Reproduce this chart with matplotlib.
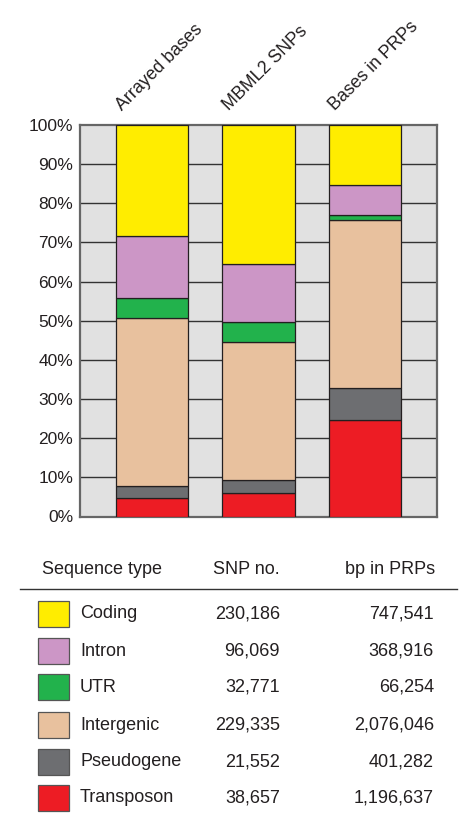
import matplotlib.pyplot as plt
from matplotlib import transforms

plt.rcParams['font.family'] = ['Liberation Sans', 'DejaVu Sans']

# sequence categories, bottom of the stack first
categories = ["Transposon", "Pseudogene", "Intergenic", "UTR", "Intron", "Coding"]
colors = ["#ed1c24", "#6d6e71", "#e8c19e", "#22b24c", "#cc96c6", "#ffed00"]

bar_labels = ["Arrayed bases", "MBML2 SNPs", "Bases in PRPs"]

# percent of arrayed bases per category (same order as categories)
arrayed_pct = [4.8, 3.0, 42.8, 5.3, 15.8, 28.3]
# counts shown in the table
snp_counts = [38657, 21552, 229335, 32771, 96069, 230186]
prp_bp = [1196637, 401282, 2076046, 66254, 368916, 747541]


def to_pct(vals):
    total = sum(vals)
    return [100.0 * v / total for v in vals]


shares = [to_pct(arrayed_pct), to_pct(snp_counts), to_pct(prp_bp)]

fig = plt.figure(figsize=(4.65, 8.15), dpi=100)
ax = fig.add_axes([80 / 465, 1 - 516.5 / 815, 357 / 465, 391.5 / 815])

ax.set_facecolor("#e1e1e1")
for y in range(10, 100, 10):
    ax.axhline(y, color="#333333", lw=1.0, zorder=1)

width = 0.68
for i, s in enumerate(shares):
    bottom = 0
    for val, col in zip(s, colors):
        ax.bar(i, val, width, bottom=bottom, color=col, edgecolor="#231f20",
               lw=0.9, zorder=3)
        bottom += val

ax.set_xlim(-0.673, 2.673)
ax.set_ylim(0, 100)
ax.set_xticks([])
ax.set_yticks(range(0, 101, 10))
ax.set_yticklabels([f"{v}%" for v in range(0, 101, 10)], fontsize=12.5,
                   color="#231f20")
ax.tick_params(axis="y", length=0, pad=5)
for sp in ax.spines.values():
    sp.set_color("#666666")
    sp.set_linewidth(1.6)

# rotated bar names above the plot
trans = transforms.blended_transform_factory(ax.transData, ax.transAxes)
for i, name in enumerate(bar_labels):
    ax.text(i - width / 2 + 0.06, 1.035, name, transform=trans, rotation=45,
            rotation_mode="anchor", ha="left", va="baseline", fontsize=12.8,
            color="#231f20")

# table of counts below the chart
fs = 13
tc = "#231f20"
fig.text(42 / 465, 1 - 569 / 815, "Sequence type", ha="left", va="center",
         fontsize=fs, color=tc)
fig.text(280 / 465, 1 - 569 / 815, "SNP no.", ha="right", va="center",
         fontsize=fs, color=tc)
fig.text(435 / 465, 1 - 569 / 815, "bp in PRPs", ha="right", va="center",
         fontsize=fs, color=tc)
fig.add_artist(plt.Line2D([20 / 465, 457 / 465], [1 - 589 / 815] * 2,
                          color="#333333", lw=1.0))

row_y = [798, 762, 725, 687, 651, 614]
for name, col, snp, bp, y in zip(categories, colors, snp_counts, prp_bp, row_y):
    yf = 1 - y / 815
    fig.add_artist(plt.Rectangle((38 / 465, yf - 13 / 815), 31 / 465, 26 / 815,
                                 facecolor=col, edgecolor="#555555", lw=0.9))
    fig.text(80 / 465, yf, name, ha="left", va="center", fontsize=fs, color=tc)
    fig.text(280 / 465, yf, f"{snp:,}", ha="right", va="center", fontsize=fs,
             color=tc)
    fig.text(434 / 465, yf, f"{bp:,}", ha="right", va="center", fontsize=fs,
             color=tc)

fig.savefig("out.png", dpi=100, facecolor="white")
